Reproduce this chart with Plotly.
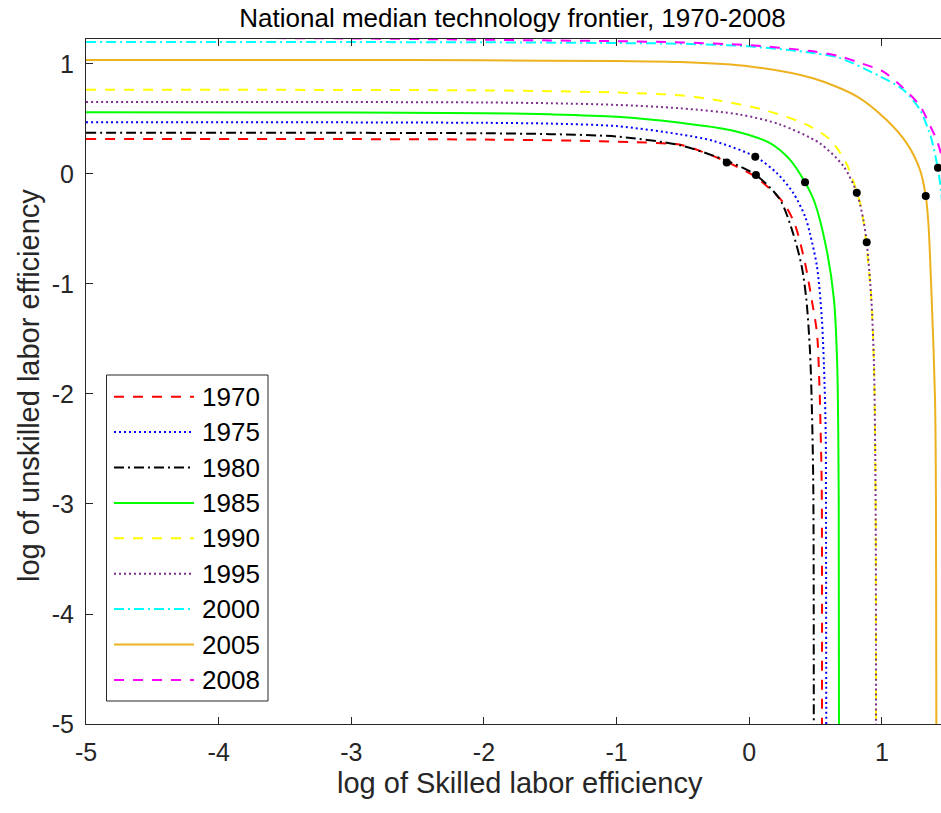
import plotly.graph_objects as go

# ---------------- data ----------------
years = ["1970", "1975", "1980", "1985", "1990", "1995", "2000", "2005", "2008"]

x_1970 = [-5, -3, -2, -1.3, -0.9, -0.52, -0.35, -0.17, 0.05, 0.256, 0.344, 0.42, 0.47, 0.51, 0.528, 0.538, 0.546, 0.548]
y_1970 = [0.318, 0.317, 0.313, 0.303, 0.29, 0.265, 0.20, 0.11, -0.03, -0.26, -0.46, -0.81, -1.14, -1.445, -1.9, -2.35, -2.87, -5]

x_1975 = [-5, -3, -2, -1.5, -1, -0.52, -0.27, 0.045, 0.206, 0.33, 0.42, 0.457, 0.51, 0.546, 0.563, 0.576, 0.578, 0.58]
y_1975 = [0.47, 0.469, 0.465, 0.458, 0.435, 0.36, 0.30, 0.157, 0.01, -0.17, -0.385, -0.54, -0.84, -1.3, -1.75, -2.35, -2.96, -5]

x_1980 = [-5, -3, -2, -1.5, -1, -0.52, -0.17, 0.05, 0.23, 0.33, 0.395, 0.43, 0.457, 0.47, 0.482, 0.486]
y_1980 = [0.375, 0.374, 0.37, 0.362, 0.34, 0.26, 0.12, -0.01, -0.23, -0.54, -0.84, -1.14, -1.6, -2.05, -2.81, -5]

x_1985 = [-5, -3, -2, -1.5, -1, -0.52, -0.145, 0.156, 0.306, 0.42, 0.49, 0.583, 0.638, 0.663, 0.674, 0.676]
y_1985 = [0.56, 0.558, 0.552, 0.542, 0.52, 0.465, 0.40, 0.28, 0.13, -0.076, -0.25, -0.69, -1.14, -1.75, -2.96, -5]

x_1990 = [-5, -3, -2, -1.5, -1, -0.52, -0.22, 0.105, 0.43, 0.61, 0.73, 0.834, 0.87, 0.92, 0.94, 0.952, 0.955]
y_1990 = [0.765, 0.764, 0.76, 0.753, 0.74, 0.715, 0.665, 0.585, 0.45, 0.31, 0.10, -0.26, -0.51, -1.14, -1.75, -2.96, -5]

x_1995 = [-5, -3, -2, -1.5, -1, -0.52, -0.07, 0.23, 0.53, 0.71, 0.81, 0.86, 0.885, 0.92, 0.94, 0.952, 0.955]
y_1995 = [0.655, 0.654, 0.65, 0.643, 0.628, 0.597, 0.54, 0.45, 0.28, 0.07, -0.17, -0.42, -0.62, -1.14, -1.75, -2.96, -5]

x_2000 = [-5, -3, -2, -1, -0.52, 0.0, 0.48, 0.68, 0.985, 1.16, 1.286, 1.35, 1.375, 1.42, 1.445, 1.47, 1.49, 1.5]
y_2000 = [1.20, 1.199, 1.197, 1.19, 1.184, 1.16, 1.10, 1.055, 0.887, 0.766, 0.585, 0.40, 0.31, 0.06, -0.15, -0.6, -1.5, -5]

x_2005 = [-5, -3, -2, -1, -0.52, 0.005, 0.48, 0.81, 1.035, 1.186, 1.286, 1.33, 1.35, 1.375, 1.40, 1.407, 1.41]
y_2005 = [1.037, 1.036, 1.033, 1.026, 1.018, 0.978, 0.87, 0.705, 0.49, 0.28, 0.04, -0.2, -0.45, -1.14, -2.05, -2.96, -5]

x_2008 = [-5, -3, -2.3, -1.5, -1, -0.52, 0.005, 0.48, 0.68, 0.81, 1.01, 1.135, 1.286, 1.35, 1.412, 1.445, 1.48, 1.51, 1.53]
y_2008 = [1.24, 1.232, 1.224, 1.214, 1.207, 1.196, 1.17, 1.115, 1.07, 1.02, 0.93, 0.81, 0.62, 0.47, 0.31, 0.18, -0.1, -0.8, -5]

# observed points (black dots)
dot_x = [-0.17, 0.05, 0.045, 0.42, 0.81, 0.885, 1.33, 1.422]
dot_y = [0.105, -0.01, 0.157, -0.076, -0.17, -0.62, -0.20, 0.057]

x_ticks = [-5, -4, -3, -2, -1, 0, 1]
y_ticks = [-5, -4, -3, -2, -1, 0, 1]

# ---------------- styles ----------------
xs = [x_1970, x_1975, x_1980, x_1985, x_1990, x_1995, x_2000, x_2005, x_2008]
ys = [y_1970, y_1975, y_1980, y_1985, y_1990, y_1995, y_2000, y_2005, y_2008]
colors = ["#ff0000", "#0000ff", "#000000", "#00ff00", "#ffff00", "#7e2f8e", "#00ffff", "#edb120", "#ff00ff"]
DASH = "10px,9px"
DOT = "2px,3px"
DASHDOT = "10px,4px,2px,4px"
dashes = [DASH, DOT, DASHDOT, "solid", DASH, DOT, DASHDOT, "solid", DASH]

FONT = "Liberation Sans, Arial, Helvetica, sans-serif"
AXC = "#262626"

W, H = 941, 813
L, T, R, B = 86, 39, 941, 724


def px(xp):
    return (xp - L) / (R - L)


def py(yp):
    return (B - yp) / (B - T)


fig = go.Figure()
for yr, xv, yv, c, d in zip(years, xs, ys, colors, dashes):
    fig.add_trace(go.Scatter(
        x=xv, y=yv, mode="lines", name=yr,
        line=dict(color=c, width=2, dash=d, shape="spline", smoothing=0.8),
        showlegend=False, hoverinfo="skip"))

fig.add_trace(go.Scatter(
    x=dot_x, y=dot_y, mode="markers",
    marker=dict(color="black", size=8, line=dict(width=0)),
    showlegend=False, hoverinfo="skip"))

# ---------------- manual MATLAB-style legend ----------------
shapes = [dict(type="rect", xref="paper", yref="paper",
               x0=px(106.5), x1=px(268), y0=py(701), y1=py(375),
               line=dict(color=AXC, width=1), fillcolor="white", layer="above")]
annotations = []
for i, (yr, c, d) in enumerate(zip(years, colors, dashes)):
    yc = 396.7 + i * 35.4
    shapes.append(dict(type="line", xref="paper", yref="paper",
                       x0=px(114), x1=px(194), y0=py(yc), y1=py(yc),
                       line=dict(color=c, width=2, dash=d), layer="above"))
    annotations.append(dict(xref="paper", yref="paper", x=px(200), y=py(yc),
                            text=yr, showarrow=False, xanchor="left", yanchor="middle",
                            font=dict(family=FONT, size=26, color="black")))

# axis titles
annotations.append(dict(xref="paper", yref="paper", x=px(520), y=py(783),
                        text="log of Skilled labor efficiency", showarrow=False,
                        xanchor="center", yanchor="middle",
                        font=dict(family=FONT, size=29, color=AXC)))
annotations.append(dict(xref="paper", yref="paper", x=px(29), y=py(386),
                        text="log of unskilled labor efficiency", showarrow=False,
                        textangle=-90, xanchor="center", yanchor="middle",
                        font=dict(family=FONT, size=29, color=AXC)))

fig.update_layout(
    width=W, height=H, autosize=False,
    margin=dict(l=L, r=W - R, t=T, b=H - B, pad=0),
    paper_bgcolor="white", plot_bgcolor="white",
    title=dict(text="National median technology frontier, 1970-2008",
               x=512.5 / W, xref="container", xanchor="center",
               y=1 - 18 / H, yref="container", yanchor="middle",
               font=dict(family=FONT, size=26, color="black")),
    shapes=shapes, annotations=annotations,
    showlegend=False,
)

fig.update_xaxes(range=[-5, 1.445], tickvals=x_ticks, ticktext=[str(v) for v in x_ticks],
                 showgrid=False, zeroline=False, showline=True, linecolor=AXC, linewidth=1,
                 mirror="ticks", ticks="inside", ticklen=7, tickcolor=AXC, tickwidth=1,
                 ticklabelstandoff=6,
                 tickfont=dict(family=FONT, size=25, color=AXC))
fig.update_yaxes(range=[-5, 1.227], tickvals=y_ticks, ticktext=[str(v) for v in y_ticks],
                 showgrid=False, zeroline=False, showline=True, linecolor=AXC, linewidth=1,
                 mirror=False, ticks="inside", ticklen=7, tickcolor=AXC, tickwidth=1,
                 ticklabelstandoff=6,
                 tickfont=dict(family=FONT, size=25, color=AXC))

fig.write_html("out.html")
